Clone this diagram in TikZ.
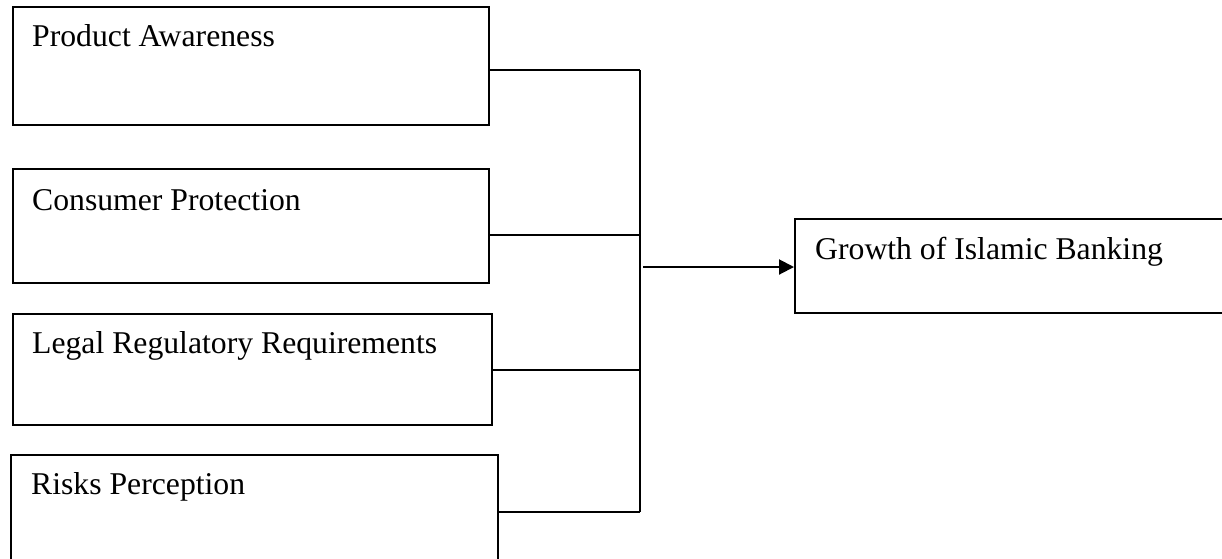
\documentclass[tikz,border=0pt]{standalone}
\usepackage{fontspec}
\setmainfont{Liberation Serif}
\usetikzlibrary{arrows.meta}
\begin{document}
\begin{tikzpicture}[x=1pt,y=-1pt,
  box/.style={draw, line width=2pt, rectangle, anchor=north west, inner sep=0pt},
  lbl/.style={anchor=base west, inner sep=0pt, font=\fontsize{31.7}{38}\selectfont},
  conn/.style={line width=2pt},
  arr/.style={line width=2pt, -{Triangle[length=15pt,width=15pt]}}]
\useasboundingbox (0,0) rectangle (1222,558);
\clip (0,0) rectangle (1222,558);
\fill[white] (0,0) rectangle (1222,558);
\node[box, minimum width=476pt, minimum height=118pt,
  label={[lbl, xshift=20pt, yshift=-40pt]north west:Product Awareness}] (b1) at (12,6) {};
\node[box, minimum width=476pt, minimum height=114pt,
  label={[lbl, xshift=20pt, yshift=-42pt]north west:Consumer Protection}] (b2) at (12,168) {};
\node[box, minimum width=479pt, minimum height=111pt,
  label={[lbl, xshift=20pt, yshift=-40pt]north west:Legal Regulatory Requirements}] (b3) at (12,313) {};
\node[box, minimum width=487pt, minimum height=160pt,
  label={[lbl, xshift=21pt, yshift=-40pt]north west:Risks Perception}] (b4) at (10,454) {};
\node[box, minimum width=460pt, minimum height=94pt,
  label={[lbl, xshift=21pt, yshift=-41pt]north west:Growth of Islamic Banking}] (g) at (794,218) {};
\coordinate (j1) at (640,70);
\coordinate (j2) at (640,235);
\coordinate (j3) at (640,370);
\coordinate (j4) at (640,512);
\coordinate (js) at (643,267);
\draw[conn] (b1.east |- j1) -- (j1);
\draw[conn] (b2.east |- j2) -- (j2);
\draw[conn] (b3.east |- j3) -- (j3);
\draw[conn] (b4.east |- j4) -- (j4);
\draw[conn] (j1) -- (j4);
\draw[arr] (js) -- (g.west |- js);
\end{tikzpicture}
\end{document}
